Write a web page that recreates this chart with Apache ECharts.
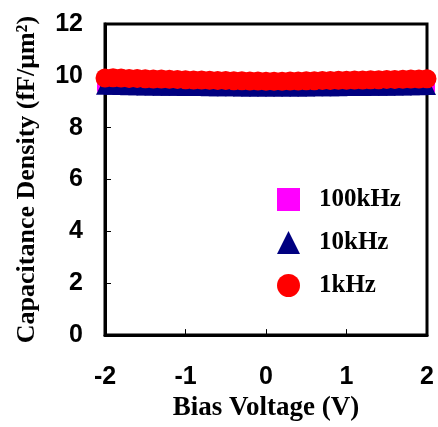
<!DOCTYPE html>
<html>
<head>
<meta charset="utf-8">
<script src="https://cdn.jsdelivr.net/npm/echarts@6/dist/echarts.min.js"></script>
<style>
  html, body { margin: 0; padding: 0; background: #fff; }
  #chart { width: 438px; height: 427px; }
</style>
</head>
<body>
<div id="chart"></div>
<script>
const voltages = [
  -2.0, -1.9, -1.8, -1.7, -1.6, -1.5, -1.4, -1.3, -1.2, -1.1,
  -1.0, -0.9, -0.8, -0.7, -0.6, -0.5, -0.4, -0.3, -0.2, -0.1,
  0.0, 0.1, 0.2, 0.3, 0.4, 0.5, 0.6, 0.7, 0.8, 0.9,
  1.0, 1.1, 1.2, 1.3, 1.4, 1.5, 1.6, 1.7, 1.8, 1.9, 2.0
]

const cap100k = [
  9.70, 9.70, 9.69, 9.68, 9.68, 9.67, 9.67, 9.66, 9.66, 9.65,
  9.65, 9.64, 9.64, 9.64, 9.63, 9.63, 9.63, 9.62, 9.62, 9.62,
  9.62, 9.62, 9.62, 9.62, 9.62, 9.63, 9.63, 9.63, 9.64, 9.64,
  9.64, 9.65, 9.65, 9.65, 9.66, 9.66, 9.67, 9.67, 9.68, 9.68, 9.69
]

const cap10k = [
  9.62, 9.62, 9.61, 9.60, 9.60, 9.59, 9.59, 9.58, 9.58, 9.58,
  9.57, 9.57, 9.57, 9.56, 9.56, 9.56, 9.56, 9.55, 9.55, 9.55,
  9.55, 9.55, 9.55, 9.55, 9.55, 9.55, 9.56, 9.56, 9.56, 9.56,
  9.57, 9.57, 9.57, 9.58, 9.58, 9.58, 9.59, 9.59, 9.60, 9.60, 9.61
]

const cap1k = [
  9.92, 9.93, 9.92, 9.90, 9.90, 9.89, 9.88, 9.88, 9.87, 9.86,
  9.85, 9.84, 9.84, 9.83, 9.82, 9.82, 9.81, 9.81, 9.80, 9.80,
  9.79, 9.79, 9.79, 9.80, 9.80, 9.81, 9.81, 9.82, 9.82, 9.83,
  9.83, 9.84, 9.84, 9.85, 9.85, 9.86, 9.86, 9.87, 9.88, 9.88, 9.89
]

const TICK_FONT = 'Liberation Sans, Arial, sans-serif'
const NAME_FONT = 'Liberation Serif, Times New Roman, serif'

const chart = echarts.init(document.getElementById('chart'))

const pairs = (vals) => voltages.map((v, i) => [v, vals[i]])

const option = {
  backgroundColor: '#fff',
  animation: false,
  grid: {
    left: 105,
    right: 11,
    top: 24,
    bottom: 91,
    show: true,
    borderColor: '#000',
    borderWidth: 3,
  },
  legend: {
    orient: 'vertical',
    left: 277,
    top: 187,
    padding: 0,
    itemWidth: 23,
    itemHeight: 23,
    itemGap: 18,
    textStyle: {
      color: '#000',
      fontSize: 25,
      lineHeight: 23,
      fontWeight: 'bold',
      fontFamily: NAME_FONT,
      padding: [0, 0, 0, 14],
    },
    data: ['100kHz', '10kHz', '1kHz'],
  },
  xAxis: {
    type: 'value',
    min: -2,
    max: 2,
    interval: 1,
    name: 'Bias Voltage (V)',
    nameLocation: 'middle',
    nameGap: 52,
    nameTextStyle: {
      color: '#000',
      fontSize: 27,
      fontWeight: 'bold',
      fontFamily: NAME_FONT,
    },
    axisLine: { show: true, onZero: false, lineStyle: { color: '#000', width: 3 } },
    axisTick: { show: true, inside: true, length: 6, lineStyle: { color: '#000', width: 1 } },
    axisLabel: {
      color: '#000',
      fontSize: 25,
      fontWeight: 'bold',
      fontFamily: TICK_FONT,
      margin: 30,
      formatter: (v) => String(v),
    },
    splitLine: { show: false },
  },
  yAxis: {
    type: 'value',
    min: 0,
    max: 12,
    interval: 2,
    name: 'Capacitance Density (fF/μm²)',
    nameLocation: 'middle',
    nameGap: 65,
    nameTextStyle: {
      color: '#000',
      fontSize: 26,
      fontWeight: 'bold',
      fontFamily: NAME_FONT,
    },
    axisLine: { show: true, onZero: false, lineStyle: { color: '#000', width: 3 } },
    axisTick: { show: true, inside: true, length: 6, lineStyle: { color: '#000', width: 1 } },
    axisLabel: {
      color: '#000',
      fontSize: 25,
      fontWeight: 'bold',
      fontFamily: TICK_FONT,
      margin: 22,
    },
    splitLine: { show: false },
  },
  series: [
    {
      name: '100kHz',
      type: 'scatter',
      symbol: 'rect',
      symbolSize: 16,
      itemStyle: { color: '#ff00ff', opacity: 1 },
      data: pairs(cap100k),
    },
    {
      name: '10kHz',
      type: 'scatter',
      symbol: 'triangle',
      symbolSize: 18,
      itemStyle: { color: '#000080', opacity: 1 },
      data: pairs(cap10k),
    },
    {
      name: '1kHz',
      type: 'scatter',
      symbol: 'circle',
      symbolSize: 19,
      itemStyle: { color: '#ff0000', opacity: 1 },
      data: pairs(cap1k),
    },
  ],
}

chart.setOption(option)
</script>
</body>
</html>
